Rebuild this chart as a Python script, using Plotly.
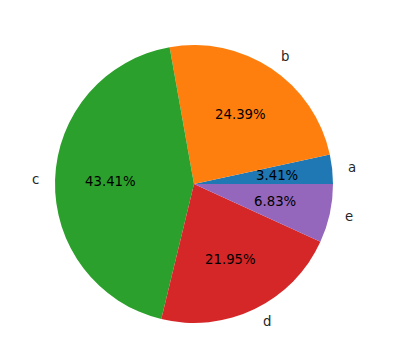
import math
import plotly.graph_objects as go

labels = ["a", "b", "c", "d", "e"]
values = [7, 50, 89, 45, 14]
colors = ["#1f77b4", "#ff7f0e", "#2ca02c", "#d62728", "#9467bd"]

W, H = 400, 337
cx, cy, r = 194.0, 184.0, 139.0  # pixel center (y from top) and radius

total = sum(values)
rot = 90 - 360.0 * values[0] / total

fig = go.Figure(go.Pie(
    labels=labels, values=values, sort=False, direction="counterclockwise",
    rotation=rot, marker=dict(colors=colors, line=dict(width=0)),
    textinfo="none", hoverinfo="label+percent", showlegend=False,
    domain=dict(x=[(cx - r) / W, (cx + r) / W], y=[(H - cy - r) / H, (H - cy + r) / H]),
))

cum = 0
font = dict(family="DejaVu Sans", size=13.3, color="#000000")
for lab, v in zip(labels, values):
    theta = 2 * math.pi * (cum + v / 2) / total
    cum += v
    c, s = math.cos(theta), math.sin(theta)
    lx, ly = cx + 1.1 * r * c, cy - 1.1 * r * s
    fig.add_annotation(x=lx / W, y=1 - ly / H, xref="paper", yref="paper", text=lab,
                       showarrow=False, xanchor="left" if c >= 0 else "right",
                       yanchor="middle", font=dict(family="DejaVu Sans", size=13.3, color="#262626"))
    px, py = cx + 0.6 * r * c, cy - 0.6 * r * s
    fig.add_annotation(x=px / W, y=1 - py / H, xref="paper", yref="paper",
                       text=f"{100 * v / total:.2f}%", showarrow=False,
                       xanchor="center", yanchor="middle", font=font)

fig.update_layout(width=W, height=H, margin=dict(l=0, r=0, t=0, b=0),
                  paper_bgcolor="white", plot_bgcolor="white")
fig.write_html("out.html")
